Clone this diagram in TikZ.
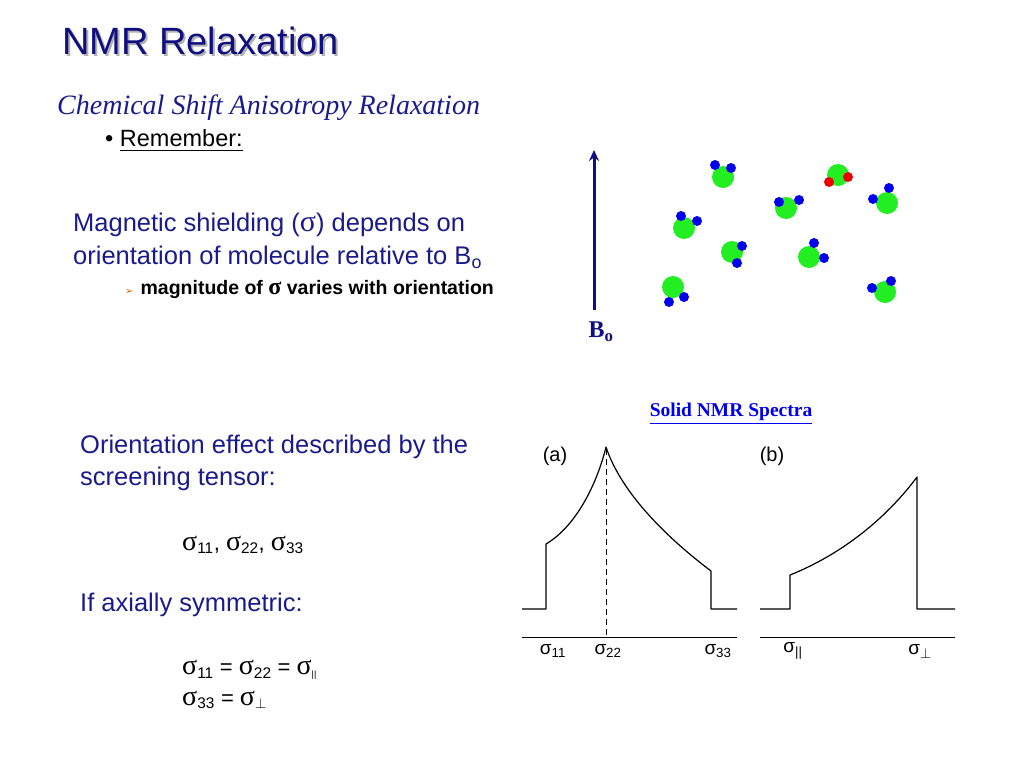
\documentclass[tikz,border=0pt]{standalone}
\usepackage{amsmath}
\usepackage{fontspec}
\usetikzlibrary{arrows.meta}
\setmainfont{Liberation Sans}
\newfontfamily\serif{Liberation Serif}
\newfontfamily\dv{DejaVu Sans}
\definecolor{tblue}{HTML}{1A1A8C}
\definecolor{navy}{HTML}{0F0F80}
\definecolor{gr}{HTML}{22EE22}
\definecolor{bl}{HTML}{0000EE}
\definecolor{rd}{HTML}{EE0000}
\newcommand{\sg}{{\serif\fontsize{28}{30}\selectfont σ}}
\tikzset{txt/.style={anchor=west,inner sep=0pt,text=tblue,font=\fontsize{25.5}{30}\selectfont},
 frm/.style={anchor=west,inner sep=0pt,font=\fontsize{22}{26}\selectfont},
 sig/.style={inner sep=0pt,font=\fontsize{19}{22}\selectfont},
 spec/.style={line width=1.2pt,line join=round}}
\begin{document}
\begin{tikzpicture}[x=1pt,y=-1pt]
\useasboundingbox (0,0) rectangle (1024,768);
% title
\node[anchor=west,inner sep=0pt,text=gray!60,font=\fontsize{38}{44}\selectfont] at (64,43) {NMR Relaxation};
\node[anchor=west,inner sep=0pt,text=navy,font=\fontsize{38}{44}\selectfont] (title) at (62,41) {NMR Relaxation};
\node[anchor=west,inner sep=0pt,text=tblue,font=\serif\itshape\fontsize{28}{32}\selectfont] (sub) at (57,108) {Chemical Shift Anisotropy Relaxation};
\node[anchor=west,inner sep=0pt,font=\fontsize{23.5}{28}\selectfont] (rem) at (105,141) {• \underline{Remember:}};
\node[txt] (m1) at (73,225) {Magnetic shielding ({\serif\fontsize{30}{30}\selectfont σ}) depends on};
\node[txt] (m2) at (73,257) {orientation of molecule relative to B\textsubscript{o}};
\node[anchor=west,inner sep=0pt,font=\bfseries\fontsize{19.5}{23}\selectfont] (mag) at (125,289) {{\dv\color{orange!80!black}\fontsize{10}{11}\selectfont ➢}\hspace{7pt}magnitude of {\serif\bfseries\fontsize{24}{24}\selectfont σ} varies with orientation};
% B arrow
\coordinate (b0) at (594,310);
\coordinate (b1) at (594,150);
\draw[navy,line width=3pt,-{Stealth[length=11pt,width=10pt]}] (b0) -- (b1);
\node[text=navy,font=\serif\bfseries\fontsize{24}{28}\selectfont,inner sep=0pt] (B) at (601,332) {B\textsubscript{o}};
% molecules
\foreach \gx/\gy/\ax/\ay/\bx/\by in {723/177/715/165/731/168, 786/208/779/202/799/200, 887/203/873/199/889/188, 684/228/681/216/697/221, 732/252/742/246/737/263, 809/257/814/243/824/258, 673/287/684/297/669/302, 885/292/872/288/891/281}{
 \fill[gr] (\gx,\gy) circle (11);
 \fill[bl] (\ax,\ay) circle (5);
 \fill[bl] (\bx,\by) circle (5);
}
\fill[gr] (838,175) circle (11);
\fill[rd] (829,182) circle (5);
\fill[rd] (848,177) circle (5);
% lower text
\node[txt] (o1) at (80,447) {Orientation effect described by the};
\node[txt] (o2) at (80,479) {screening tensor:};
\node[frm] (s1) at (182,545) {\sg\textsubscript{11}, \sg\textsubscript{22}, \sg\textsubscript{33}};
\node[txt] (ax) at (80,605) {If axially symmetric:};
\node[frm] (e1) at (182,670) {\sg\textsubscript{11} = \sg\textsubscript{22} = \sg\textsubscript{\fontsize{9}{10}\selectfont ||}};
\node[frm] (e2) at (182,700) {\sg\textsubscript{33} = \sg\textsubscript{$\perp$}};
% spectra
\node[font=\serif\bfseries\fontsize{19.5}{23}\selectfont,text=bl,inner sep=0pt] (sol) at (731,414) {\underline{Solid NMR Spectra}};
\node[font=\fontsize{20}{24}\selectfont,inner sep=0pt] (la) at (555,456) {(a)};
\node[font=\fontsize{20}{24}\selectfont,inner sep=0pt] (lb) at (772,456) {(b)};
\draw[spec] (522,609) -- (546,609) -- (546,544) .. controls (578,525) and (598,480) .. (606,447)
 .. controls (622,495) and (670,540) .. (711,571) -- (711,609) -- (737,609);
\draw[line width=1pt,dash pattern=on 6pt off 4pt] (606,449) -- (606,637);
\draw[line width=1pt] (522,637) -- (737,637);
\draw[spec] (760,609) -- (790,609) -- (790,575) .. controls (840,555) and (885,520) .. (917,477) -- (917,609) -- (955,609);
\draw[line width=1pt] (760,637) -- (955,637);
\node[sig] at (553,651) {σ\textsubscript{11}};
\node[sig] at (608,651) {σ\textsubscript{22}};
\node[sig] at (718,651) {σ\textsubscript{33}};
\node[sig] at (793,651) {σ\textsubscript{||}};
\node[sig] at (920,651) {σ\textsubscript{$\perp$}};
\end{tikzpicture}
\end{document}
